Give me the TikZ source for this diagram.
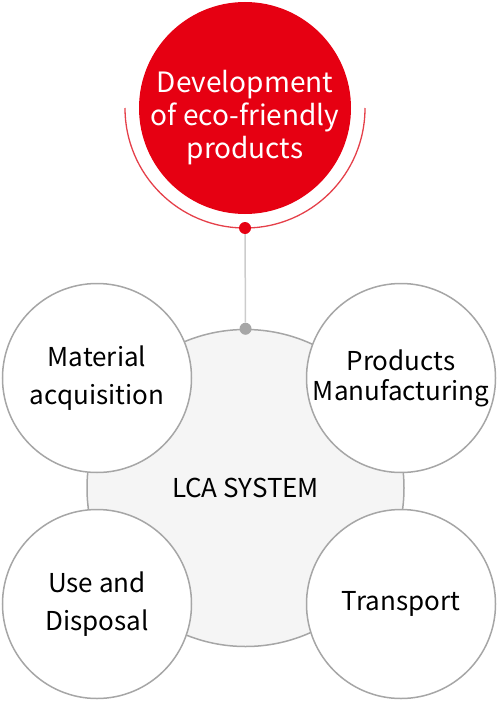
\documentclass[tikz,border=0pt]{standalone}
\usepackage{fontspec}
\setmainfont{Noto Sans CJK KR}

\definecolor{lcared}{HTML}{E60012}
\definecolor{arcred}{HTML}{E5404A}
\definecolor{ringgray}{HTML}{A6A6A6}
\definecolor{stemgray}{HTML}{CCCCCC}
\definecolor{corefill}{HTML}{F5F5F5}

\begin{document}
\begin{tikzpicture}[x=1pt,y=-1pt,
    stage/.style={circle,draw=ringgray,line width=1.5pt,fill=white,
        minimum size=189pt,inner sep=0pt,align=center,
        font=\fontsize{26}{38}\selectfont}]

    \useasboundingbox (0,0) rectangle (498,701);

    % centre system
    \node[circle,fill=corefill,draw=ringgray,line width=1.5pt,minimum size=317pt,
        font=\fontsize{26}{30}\selectfont] (core) at (245.5,488) {LCA SYSTEM};

    % four stages
    \node[stage] (material) at (97,378) {Material\\acquisition};
    \node[stage,font=\fontsize{26}{30}\selectfont] (making) at (401,378) {Products\\Manufacturing};
    \node[stage] (use) at (97,604) {Use and\\Disposal};
    \node[stage] (transport) at (401,604) {Transport};

    % goal on top
    \node[circle,fill=lcared,minimum size=212pt,inner sep=0pt] (goal) at (245,108) {};
    \node[text=white,align=center,font=\fontsize{28}{33}\selectfont] (goaltext) at (245,118)
        {Development\\of eco-friendly\\products};
    \coordinate (ringleft) at (125,108);
    \draw[arcred,line width=1.3pt] (ringleft) arc[start angle=180,end angle=0,radius=120];

    \node[circle,fill=lcared,minimum size=12pt,inner sep=0pt] (goaldot) at (245,228) {};
    \node[circle,fill=ringgray,minimum size=12pt,inner sep=0pt] (coredot) at (core.north) {};
    \draw[stemgray,line width=1.5pt] (goaldot) -- (coredot);

\end{tikzpicture}
\end{document}
